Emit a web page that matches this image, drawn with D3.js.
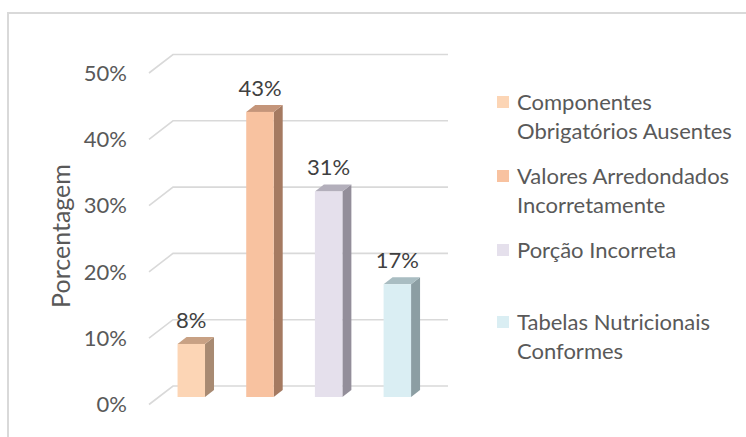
<!DOCTYPE html>
<html><head><meta charset="utf-8">
<script src="https://cdn.jsdelivr.net/npm/d3@7"></script>
<style>body{margin:0;background:#fff}svg{display:block}text{font-family:Lato,"Open Sans",sans-serif}</style>
</head><body><svg id="c" width="746" height="437"></svg>
<script>
const categories = ["Componentes Obrigatórios Ausentes","Valores Arredondados Incorretamente","Porção Incorreta","Tabelas Nutricionais Conformes"];
const legendLines = [["Componentes","Obrigatórios Ausentes"],["Valores Arredondados","Incorretamente"],["Porção Incorreta"],["Tabelas Nutricionais","Conformes"]];
const values = [0.08,0.43,0.31,0.17];
const yTicks = [0,0.1,0.2,0.3,0.4,0.5];
const frontColors = ["#FCD5B5","#F8C2A0","#E5E0EC","#DAEEF3"];
const topColors = ["#C8A184","#C4957A","#B3AFBB","#A9BDC2"];
const sideColors = ["#A88A72","#A57A61","#938E9A","#8C9EA3"];

const svg = d3.select("#c");
// frame
svg.append("rect").attr("x",8).attr("y",13).attr("width",760).attr("height",460)
  .attr("fill","none").attr("stroke","#D9D9D9").attr("stroke-width",2);

const x = d3.scaleBand().domain(categories).range([143.2,445.4]).paddingInner(0.6).paddingOuter(0.5);
const y = d3.scaleLinear().domain([0,0.5]).range([397,65.5]);
const backDy = -11, frontDy = 7.5, backX0 = 173, backX1 = 448, frontX0 = 149;
const depthX = 9, depthY = -7;

const g = svg.append("g");
// gridlines
yTicks.forEach(t=>{
  g.append("path").attr("d",`M${frontX0},${y(t)+frontDy}L${backX0},${y(t)+backDy}L${backX1},${y(t)+backDy}`)
   .attr("fill","none").attr("stroke","#D9D9D9").attr("stroke-width",1.6);
});
// tick labels
g.selectAll(".tick").data(yTicks).join("text")
  .attr("x",127).attr("y",d=>y(d)+frontDy).attr("dy","0.35em")
  .attr("text-anchor","end").attr("font-size",22).attr("fill","#595959")
  .text(d3.format(".0%"));
// axis title
svg.append("text").attr("transform","translate(70,236) rotate(-90)")
  .attr("text-anchor","middle").attr("font-size",25).attr("fill","#595959").text("Porcentagem");

// bars
categories.forEach((c,i)=>{
  const x0 = x(c), w = x.bandwidth(), yt = y(values[i]), yb = y(0);
  g.append("path").attr("d",`M${x0+w},${yb}L${x0+w+depthX},${yb+depthY}L${x0+w+depthX},${yt+depthY}L${x0+w},${yt}Z`).attr("fill",sideColors[i]);
  g.append("path").attr("d",`M${x0},${yt}L${x0+depthX},${yt+depthY}L${x0+w+depthX},${yt+depthY}L${x0+w},${yt}Z`).attr("fill",topColors[i]);
  g.append("rect").attr("x",x0).attr("y",yt).attr("width",w).attr("height",yb-yt).attr("fill",frontColors[i]);
  g.append("text").attr("x",x0+w/2).attr("y",yt-16).attr("text-anchor","middle")
   .attr("font-size",22).attr("fill","#404040").text(d3.format(".0%")(values[i]));
});

// legend
const legY = [102,176,250,322];
const lg = svg.append("g");
legendLines.forEach((lines,i)=>{
  lg.append("rect").attr("x",497).attr("y",legY[i]-6).attr("width",12).attr("height",12).attr("fill",frontColors[i]);
  lines.forEach((l,j)=>{
    lg.append("text").attr("x",517).attr("y",legY[i]+j*29.5).attr("dy","0.35em")
      .attr("font-size",22).attr("fill","#595959").text(l);
  });
});
</script></body></html>
